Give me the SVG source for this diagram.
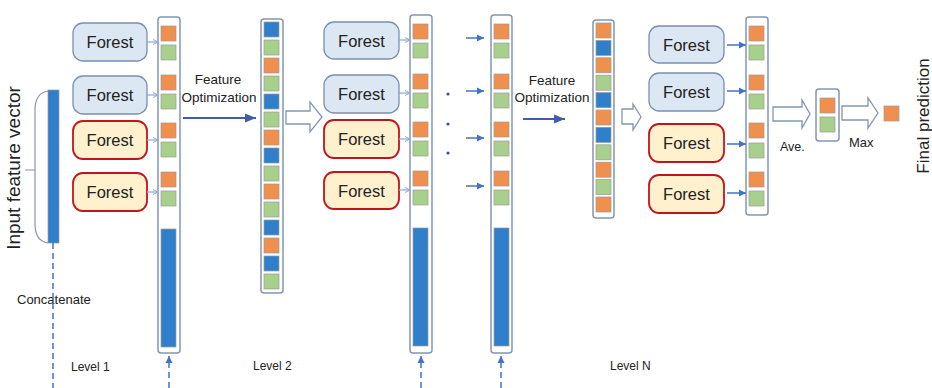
<svg xmlns="http://www.w3.org/2000/svg" width="932" height="388" viewBox="0 0 932 388">
  <style>
    text { font-family: "Liberation Sans", Arial, sans-serif; fill: #222; }
    .forest-b { fill: #DCE7F4; stroke: #7A8FAD; stroke-width: 1.3; }
    .forest-y { fill: #FFF0CE; stroke: #C0151B; stroke-width: 1.8; }
    .ftxt { font-size: 16.5px; text-anchor: middle; }
    .col { fill: #fff; stroke: #8496B0; stroke-width: 1.5; }
    .o { fill: #F0904F; stroke: #9a9a9a; stroke-width: 0.7; }
    .g { fill: #A8D08D; stroke: #9a9a9a; stroke-width: 0.7; }
    .b { fill: #2F7FCB; stroke: #9a9a9a; stroke-width: 0.7; }
    .hollow { fill: #fff; stroke: #8496B0; stroke-width: 1.3; }
    .thin { stroke: #8AA8D0; stroke-width: 1.2; fill: none; marker-end: url(#openHead); }
    .blue { stroke: #4472C4; stroke-width: 1.5; fill: none; marker-end: url(#fillHead); }
    .opt { stroke: #3F5DAA; stroke-width: 2; fill: none; marker-end: url(#optHead); }
    .dash { stroke: #4472C4; stroke-width: 1.5; stroke-dasharray: 6 4; fill: none; }
    .small { font-size: 12px; }
  </style>
  <defs>
    <marker id="openHead" markerWidth="6" markerHeight="6" refX="5.5" refY="3" orient="auto" markerUnits="userSpaceOnUse">
      <path d="M0.5,0.5 L5.5,3 L0.5,5.5" fill="none" stroke="#8AA8D0" stroke-width="1"/>
    </marker>
    <marker id="fillHead" markerWidth="8" markerHeight="8" refX="7" refY="4" orient="auto" markerUnits="userSpaceOnUse">
      <path d="M0,0.5 L7,4 L0,7.5 Z" fill="#4472C4"/>
    </marker>
    <marker id="optHead" markerWidth="12" markerHeight="10" refX="11" refY="5" orient="auto" markerUnits="userSpaceOnUse">
      <path d="M0,0.5 L11,5 L0,9.5 Z" fill="#3F5DAA"/>
    </marker>
    <marker id="dashHead" markerWidth="8" markerHeight="8" refX="7" refY="4" orient="auto" markerUnits="userSpaceOnUse">
      <path d="M0,0.5 L7,4 L0,7.5 Z" fill="#4472C4"/>
    </marker>
  </defs>

  <!-- input feature vector -->
  <g id="input">
    <text transform="translate(20,168) rotate(-90)" font-size="19" text-anchor="middle">Input feature vector</text>
    <path d="M48,91 Q35,93 35,110 V224 Q35,241 48,243 M35,170 H25" fill="none" stroke="#8496B0" stroke-width="1.2"/>
    <rect x="48" y="90" width="11" height="153" class="b"/>
    <text x="17" y="304" font-size="13">Concatenate</text>
  </g>

  <!-- level 1 forests -->
  <g id="l1-forest1"><rect x="73" y="23" width="74" height="38" rx="10" class="forest-b"/><text x="110" y="48" class="ftxt">Forest</text></g>
  <g id="l1-forest2"><rect x="73" y="76" width="74" height="38" rx="10" class="forest-b"/><text x="110" y="101" class="ftxt">Forest</text></g>
  <g id="l1-forest3"><rect x="73" y="121" width="74" height="38" rx="10" class="forest-y"/><text x="110" y="146" class="ftxt">Forest</text></g>
  <g id="l1-forest4"><rect x="73" y="173" width="74" height="38" rx="10" class="forest-y"/><text x="110" y="198" class="ftxt">Forest</text></g>

  <!-- level 1 output vector -->
  <g id="l1-vector">
    <rect x="158" y="17" width="22" height="336" rx="3" class="col"/>
    <rect x="161" y="26" width="15" height="15" class="o"/>
    <rect x="161" y="45" width="15" height="15" class="g"/>
    <rect x="161" y="75" width="15" height="15" class="o"/>
    <rect x="161" y="94" width="15" height="15" class="g"/>
    <rect x="161" y="123" width="15" height="15" class="o"/>
    <rect x="161" y="142" width="15" height="15" class="g"/>
    <rect x="161" y="172" width="15" height="15" class="o"/>
    <rect x="161" y="191" width="15" height="15" class="g"/>
    <rect x="161" y="229" width="15" height="118" class="b"/>
    <text x="71" y="371" class="small">Level 1</text>
  </g>

  <!-- feature optimization 1 -->
  <g id="opt1">
    <text x="218" y="84" font-size="13.5" text-anchor="middle">Feature</text>
    <text x="219" y="102" font-size="13.5" text-anchor="middle">Optimization</text>
  </g>

  <!-- level 2 input vector -->
  <g id="l2-vector">
    <rect x="261" y="19" width="22" height="274" rx="3" class="col"/>
    <rect x="264" y="22" width="15" height="15" class="b"/>
    <rect x="264" y="40" width="15" height="15" class="g"/>
    <rect x="264" y="58" width="15" height="15" class="o"/>
    <rect x="264" y="76" width="15" height="15" class="g"/>
    <rect x="264" y="94" width="15" height="15" class="b"/>
    <rect x="264" y="112" width="15" height="15" class="g"/>
    <rect x="264" y="130" width="15" height="15" class="o"/>
    <rect x="264" y="148" width="15" height="15" class="b"/>
    <rect x="264" y="166" width="15" height="15" class="g"/>
    <rect x="264" y="184" width="15" height="15" class="o"/>
    <rect x="264" y="202" width="15" height="15" class="g"/>
    <rect x="264" y="220" width="15" height="15" class="b"/>
    <rect x="264" y="238" width="15" height="15" class="o"/>
    <rect x="264" y="256" width="15" height="15" class="b"/>
    <rect x="264" y="274" width="15" height="15" class="g"/>
    <text x="253" y="370" class="small">Level 2</text>
  </g>

  <!-- level 2 forests -->
  <g id="l2-forest1"><rect x="324" y="22" width="75" height="37" rx="10" class="forest-b"/><text x="361.5" y="46.5" class="ftxt">Forest</text></g>
  <g id="l2-forest2"><rect x="324" y="75" width="75" height="38" rx="10" class="forest-b"/><text x="361.5" y="100" class="ftxt">Forest</text></g>
  <g id="l2-forest3"><rect x="324" y="120" width="75" height="38" rx="10" class="forest-y"/><text x="361.5" y="145" class="ftxt">Forest</text></g>
  <g id="l2-forest4"><rect x="324" y="172" width="75" height="37" rx="10" class="forest-y"/><text x="361.5" y="196.5" class="ftxt">Forest</text></g>

  <!-- level 2 output vector -->
  <g id="l2-out">
    <rect x="410" y="15" width="22" height="338" rx="3" class="col"/>
    <rect x="413" y="24" width="15" height="15" class="o"/>
    <rect x="413" y="43" width="15" height="15" class="g"/>
    <rect x="413" y="74" width="15" height="15" class="o"/>
    <rect x="413" y="93" width="15" height="15" class="g"/>
    <rect x="413" y="122" width="15" height="15" class="o"/>
    <rect x="413" y="141" width="15" height="15" class="g"/>
    <rect x="413" y="171" width="15" height="15" class="o"/>
    <rect x="413" y="190" width="15" height="15" class="g"/>
    <rect x="413" y="228" width="15" height="118" class="b"/>
  </g>

  <!-- intermediate level output vector -->
  <g id="lk-out">
    <rect x="491" y="15" width="21" height="338" rx="3" class="col"/>
    <rect x="494" y="24" width="15" height="15" class="o"/>
    <rect x="494" y="43" width="15" height="15" class="g"/>
    <rect x="494" y="74" width="15" height="15" class="o"/>
    <rect x="494" y="93" width="15" height="15" class="g"/>
    <rect x="494" y="122" width="15" height="15" class="o"/>
    <rect x="494" y="141" width="15" height="15" class="g"/>
    <rect x="494" y="171" width="15" height="15" class="o"/>
    <rect x="494" y="190" width="15" height="15" class="g"/>
    <rect x="494" y="228" width="15" height="118" class="b"/>
  </g>

  <!-- ellipsis dots -->
  <g id="dots" fill="#2F5597">
    <circle cx="448" cy="94" r="1.6"/>
    <circle cx="448" cy="124" r="1.6"/>
    <circle cx="448" cy="153" r="1.6"/>
  </g>

  <!-- feature optimization N -->
  <g id="optN">
    <text x="552" y="85" font-size="13.5" text-anchor="middle">Feature</text>
    <text x="552" y="102" font-size="13.5" text-anchor="middle">Optimization</text>
  </g>

  <!-- level N input vector -->
  <g id="ln-vector">
    <rect x="593" y="20" width="21" height="198" rx="3" class="col"/>
    <rect x="596" y="23" width="15" height="15" class="o"/>
    <rect x="596" y="40.4" width="15" height="15" class="b"/>
    <rect x="596" y="57.8" width="15" height="15" class="o"/>
    <rect x="596" y="75.2" width="15" height="15" class="g"/>
    <rect x="596" y="92.6" width="15" height="15" class="b"/>
    <rect x="596" y="110" width="15" height="15" class="o"/>
    <rect x="596" y="127.4" width="15" height="15" class="b"/>
    <rect x="596" y="144.8" width="15" height="15" class="g"/>
    <rect x="596" y="162.2" width="15" height="15" class="o"/>
    <rect x="596" y="179.6" width="15" height="15" class="g"/>
    <rect x="596" y="197" width="15" height="15" class="o"/>
    <text x="610" y="370" class="small">Level N</text>
  </g>

  <!-- level N forests -->
  <g id="ln-forest1"><rect x="649" y="26" width="75" height="37" rx="10" class="forest-b"/><text x="686.5" y="50.5" class="ftxt">Forest</text></g>
  <g id="ln-forest2"><rect x="649" y="73" width="75" height="38" rx="10" class="forest-b"/><text x="686.5" y="98" class="ftxt">Forest</text></g>
  <g id="ln-forest3"><rect x="649" y="124" width="75" height="38" rx="10" class="forest-y"/><text x="686.5" y="149" class="ftxt">Forest</text></g>
  <g id="ln-forest4"><rect x="649" y="175" width="75" height="38" rx="10" class="forest-y"/><text x="686.5" y="200" class="ftxt">Forest</text></g>

  <!-- level N output vector -->
  <g id="ln-out">
    <rect x="746" y="17" width="22" height="198" rx="3" class="col"/>
    <rect x="749" y="26" width="15" height="15" class="o"/>
    <rect x="749" y="45" width="15" height="15" class="g"/>
    <rect x="749" y="75" width="15" height="15" class="o"/>
    <rect x="749" y="94" width="15" height="15" class="g"/>
    <rect x="749" y="123" width="15" height="15" class="o"/>
    <rect x="749" y="143" width="15" height="15" class="g"/>
    <rect x="749" y="172" width="15" height="15" class="o"/>
    <rect x="749" y="191" width="15" height="15" class="g"/>
  </g>

  <!-- averaged vector -->
  <g id="average">
    <rect x="816" y="89" width="23" height="52" rx="3" class="col"/>
    <rect x="820" y="98" width="15" height="15" class="o"/>
    <rect x="820" y="117" width="15" height="15" class="g"/>
    <text x="780" y="151" font-size="12.5">Ave.</text>
  </g>

  <!-- final prediction -->
  <g id="final">
    <rect x="884" y="106" width="15" height="15" class="o"/>
    <text x="849" y="147" font-size="13">Max</text>
    <text transform="translate(929,116) rotate(-90)" font-size="17" text-anchor="middle">Final prediction</text>
  </g>

  <!-- connectors -->
  <g id="connectors">
    <!-- forest outputs, level 1 -->
    <path class="thin" d="M147,42 H158"/>
    <path class="thin" d="M147,95 H158"/>
    <path class="thin" d="M147,140 H158"/>
    <path class="thin" d="M147,192 H158"/>
    <!-- forest outputs, level 2 -->
    <path class="thin" d="M399,40 H410"/>
    <path class="thin" d="M399,93 H410"/>
    <path class="thin" d="M399,139 H410"/>
    <path class="thin" d="M399,190 H410"/>
    <!-- skipped levels -->
    <path class="blue" d="M466,38 H484"/>
    <path class="blue" d="M466,91 H484"/>
    <path class="blue" d="M466,138 H484"/>
    <path class="blue" d="M466,186 H484"/>
    <!-- forest outputs, level N -->
    <path class="blue" d="M727,45 H746"/>
    <path class="blue" d="M727,91 H746"/>
    <path class="blue" d="M727,144 H746"/>
    <path class="blue" d="M727,193 H746"/>
    <!-- feature optimization -->
    <path class="opt" d="M183,118 H256"/>
    <path class="opt" d="M523,119 H565"/>
    <!-- hollow block arrows -->
    <path class="hollow" d="M286,111 H310 V102 L322,117 L310,132 V124 H286 Z"/>
    <path class="hollow" d="M622,109 H633 V104 L641,117 L633,130 V124 H622 Z"/>
    <path class="hollow" d="M773,107 H802 V100 L810,114 L802,128 V121 H773 Z"/>
    <path class="hollow" d="M842,106 H868 V98 L878,113 L868,128 V120 H842 Z"/>
    <!-- raw feature concatenation -->
    <path class="dash" d="M53,243 V388"/>
    <path class="dash" d="M169,388 V356" marker-end="url(#dashHead)"/>
    <path class="dash" d="M421,388 V356" marker-end="url(#dashHead)"/>
    <path class="dash" d="M501,388 V356" marker-end="url(#dashHead)"/>
  </g>
</svg>
